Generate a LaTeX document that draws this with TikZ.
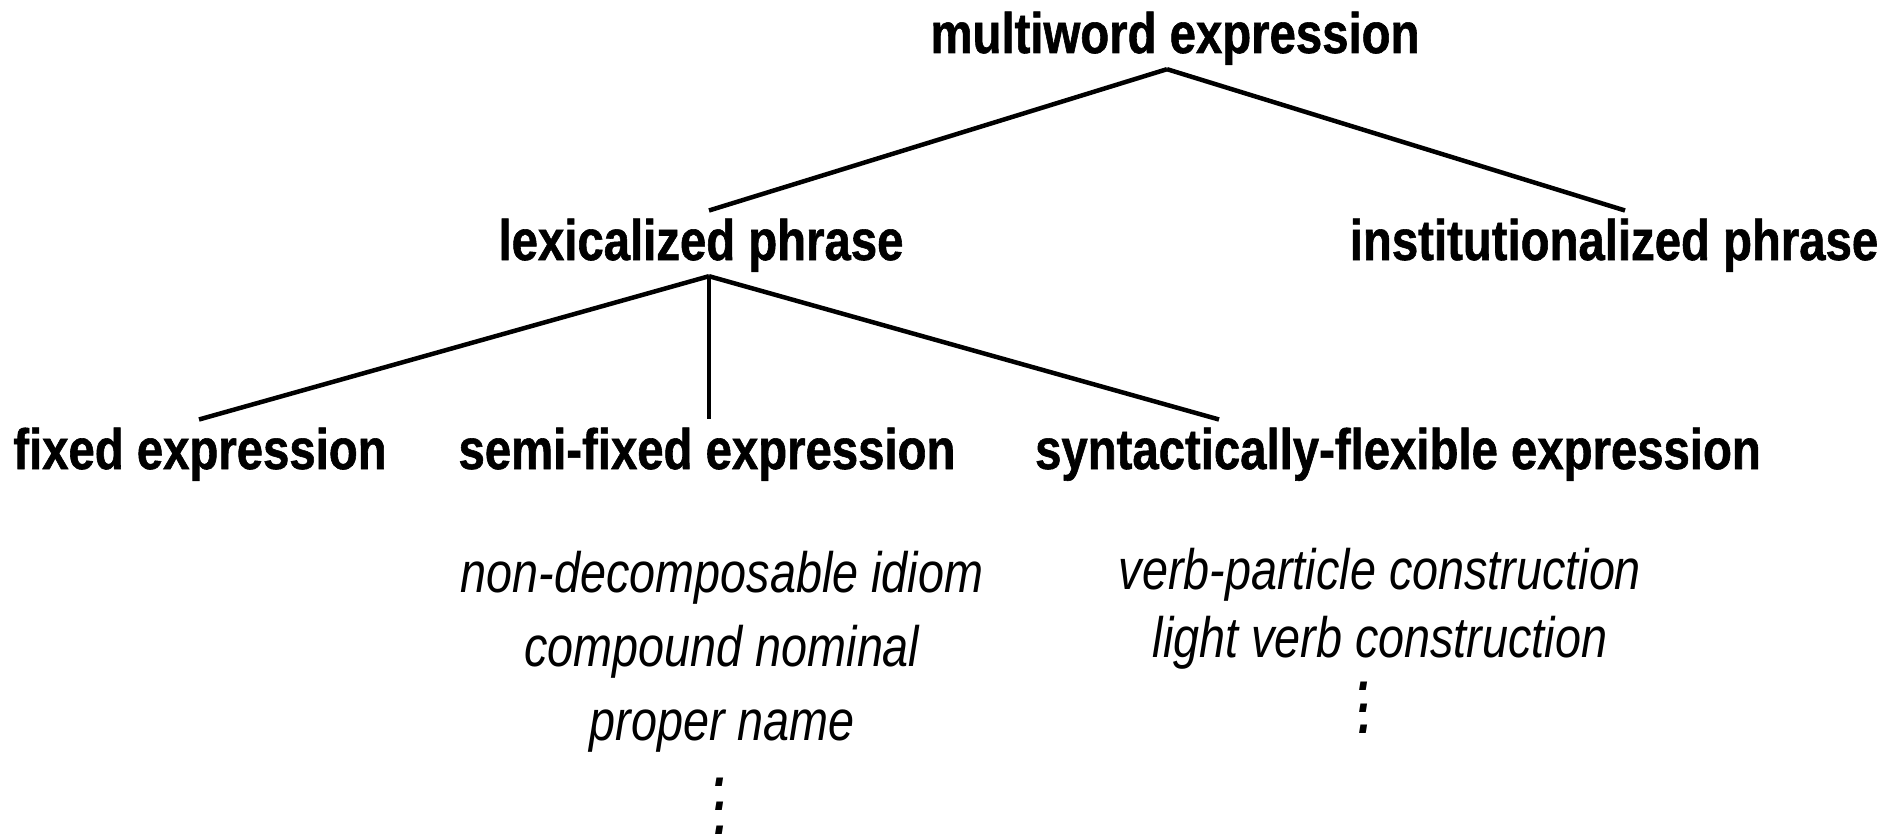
\documentclass[tikz,border=0pt]{standalone}
\usepackage{fontspec}
\setmainfont{Liberation Sans}[FakeStretch=0.82, BoldFeatures={FakeStretch=0.83, FakeBold=1}, BoldItalicFeatures={FakeStretch=0.83}]

\tikzset{
  catnode/.style={font=\fontsize{57}{68}\selectfont\bfseries, anchor=base, inner xsep=0pt, inner ysep=8pt, text depth=8pt},
  exnode/.style={font=\fontsize{57}{68}\selectfont\itshape, anchor=base, inner sep=0pt},
  moredots/.style={font=\fontsize{57}{24}\selectfont\bfseries\itshape, anchor=north, inner sep=0pt, align=center},
  branch/.style={line width=4.5pt},
}

\begin{document}
\begin{tikzpicture}[x=1pt,y=1pt,yscale=-1,xscale=1]
        \useasboundingbox (0,0) rectangle (1892,837);

        % Text Node
        \draw (1175,53) node [catnode] (mwe) {multiword expression};
        % Text Node
        \draw (701,260) node [catnode] (lex) {lexicalized phrase};
        % Text Node
        \draw (1614,260) node [catnode] (inst) {institutionalized phrase};
        % Text Node
        \draw (200,469) node [catnode] (fixed) {fixed expression};
        % Text Node
        \draw (707,469) node [catnode] (semi) {semi-fixed expression};
        % Text Node
        \draw (1398,469) node [catnode] (synt) {syntactically-flexible expression};

        %Straight Lines
        \coordinate (mwe-b) at ([xshift=-8pt]mwe.south);
        \coordinate (lex-b) at ([xshift=8pt]lex.south);
        \draw [branch] (mwe-b) -- ([xshift=8pt]lex.north);
        \draw [branch] (mwe-b) -- ([xshift=11pt]inst.north);
        \draw [branch] (lex-b) -- ([xshift=-1pt]fixed.north);
        \draw [branch] (lex-b) -- ([xshift=2pt]semi.north);
        \draw [branch] (lex-b) -- ([xshift=-179pt]synt.north);

        % Text Node
        \draw (722,592) node [exnode] (idiom) {non-decomposable idiom};
        \draw (722,666) node [exnode] (nominal) {compound nominal};
        \draw (722,740) node [exnode] (propname) {proper name};
        \draw (721,778) node [moredots] (semi-dots) {.\\.\\.};
        % Text Node
        \draw (1380,589) node [exnode] (vpc) {verb-particle construction};
        \draw (1380,657) node [exnode] (lvc) {light verb construction};
        \draw (1365,682) node [moredots, font=\fontsize{57}{21.5}\selectfont\bfseries\itshape] (synt-dots) {.\\.\\.};

\end{tikzpicture}
\end{document}
